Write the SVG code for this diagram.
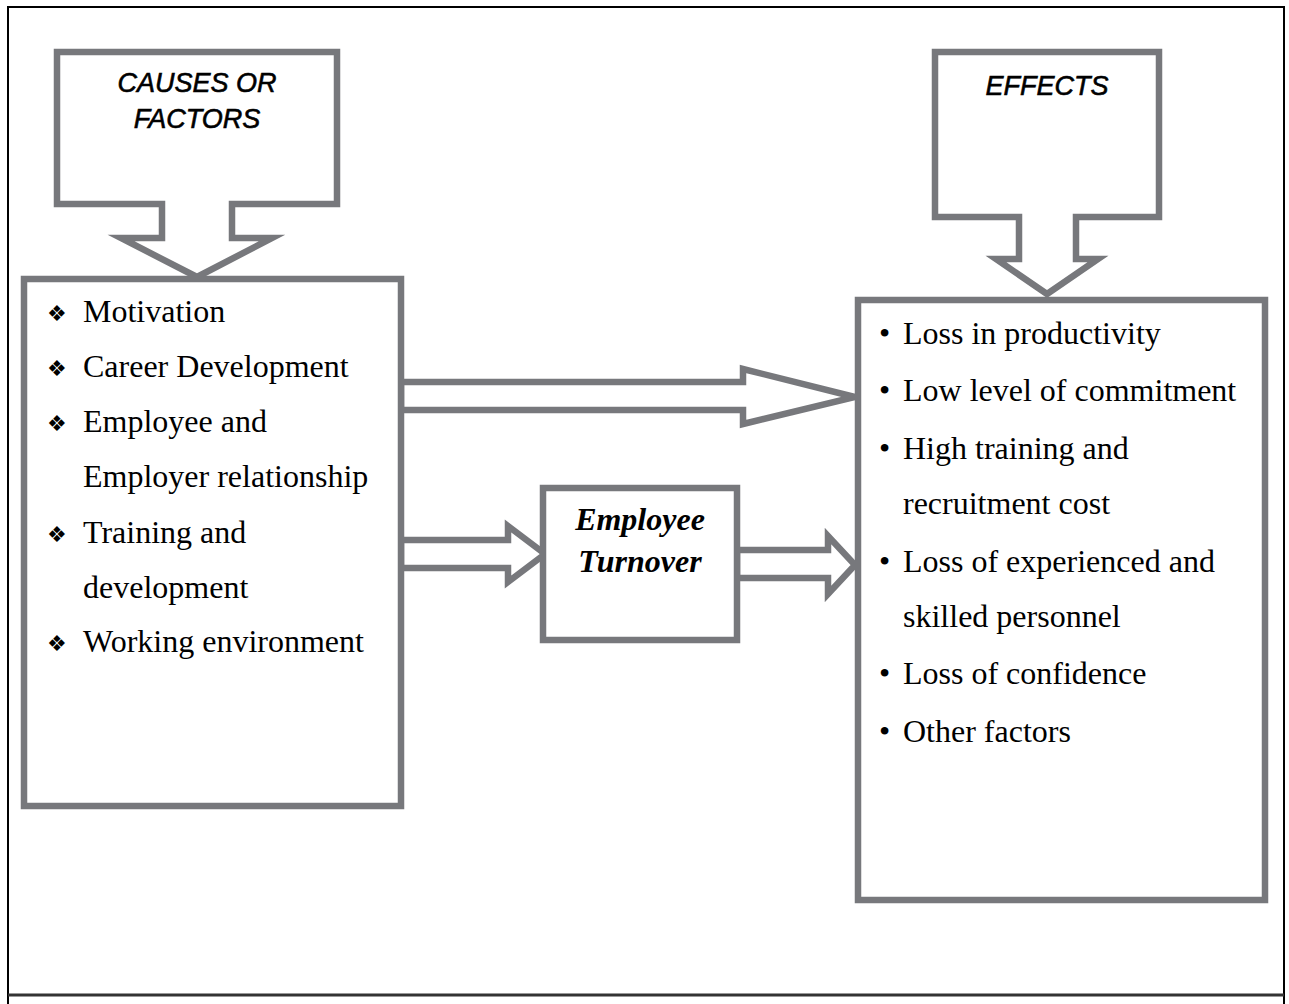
<svg xmlns="http://www.w3.org/2000/svg" width="1289" height="1004" viewBox="0 0 1289 1004">
<style>
.frame{fill:none;stroke:#000;stroke-width:2}
.shape{fill:#fff;stroke:#77787c;stroke-width:6.5;stroke-linejoin:miter;stroke-miterlimit:10}
.head{font-family:"Liberation Sans",Arial,sans-serif;font-style:italic;font-size:27px;fill:#000;stroke:#000;stroke-width:0.6;text-anchor:middle}
.item{font-family:"Liberation Serif","Times New Roman",serif;font-size:32px;fill:#000}
.bul{font-family:"DejaVu Sans",sans-serif;font-size:22px;fill:#000}
.ttl{font-family:"Liberation Serif","Times New Roman",serif;font-style:italic;font-weight:bold;font-size:32px;fill:#000;text-anchor:middle}
</style>
<rect width="1289" height="1004" fill="#fff"/>
<g id="frame">
<line class="frame" x1="7" y1="7" x2="1284" y2="7"/>
<line class="frame" x1="8" y1="6" x2="8" y2="1004"/>
<line class="frame" x1="1284" y1="6" x2="1284" y2="1004"/>
<line x1="8" y1="995" x2="1284" y2="995" stroke="#333" stroke-width="3"/>
</g>
<g id="connectors">
<path class="shape" d="M401,382 H743 V369 L855,397 L743,424 V410 H401 Z"/>
<path class="shape" d="M401,540 H508 V526 L545,554 L508,582 V568 H401 Z"/>
<path class="shape" d="M737,550 H828 V536 L855,565 L828,594 V578 H737 Z"/>
</g>
<g id="causes-callout">
<path class="shape" d="M57,52 H337 V204 H232 V238 H272 L197,277 L121,238 H162 V204 H57 Z"/>
<text class="head" x="197" y="92">CAUSES OR</text>
<text class="head" x="197" y="128">FACTORS</text>
</g>
<g id="effects-callout">
<path class="shape" d="M935,52 H1159 V217 H1076 V259 H1098 L1047,294 L996,259 H1019 V217 H935 Z"/>
<text class="head" x="1047" y="95">EFFECTS</text>
</g>
<g id="causes-box">
<rect class="shape" x="24" y="279" width="377" height="527"/>
<text class="bul" x="47" y="321">❖</text><text class="item" x="83" y="322">Motivation</text>
<text class="bul" x="47" y="376">❖</text><text class="item" x="83" y="377">Career Development</text>
<text class="bul" x="47" y="431">❖</text><text class="item" x="83" y="432">Employee and</text>
<text class="item" x="83" y="487">Employer relationship</text>
<text class="bul" x="47" y="542">❖</text><text class="item" x="83" y="543">Training and</text>
<text class="item" x="83" y="598">development</text>
<text class="bul" x="47" y="651">❖</text><text class="item" x="83" y="652">Working environment</text>
</g>
<g id="turnover">
<rect class="shape" x="543" y="488" width="194" height="152"/>
<text class="ttl" x="640" y="530">Employee</text>
<text class="ttl" x="640" y="572">Turnover</text>
</g>
<g id="effects-box">
<rect class="shape" x="858" y="300" width="407" height="600"/>
<text class="item" x="879" y="344">•</text><text class="item" x="903" y="344">Loss in productivity</text>
<text class="item" x="879" y="401">•</text><text class="item" x="903" y="401">Low level of commitment</text>
<text class="item" x="879" y="459">•</text><text class="item" x="903" y="459">High training and</text>
<text class="item" x="903" y="514">recruitment cost</text>
<text class="item" x="879" y="572">•</text><text class="item" x="903" y="572">Loss of experienced and</text>
<text class="item" x="903" y="627">skilled personnel</text>
<text class="item" x="879" y="684">•</text><text class="item" x="903" y="684">Loss of confidence</text>
<text class="item" x="879" y="742">•</text><text class="item" x="903" y="742">Other factors</text>
</g>
</svg>
